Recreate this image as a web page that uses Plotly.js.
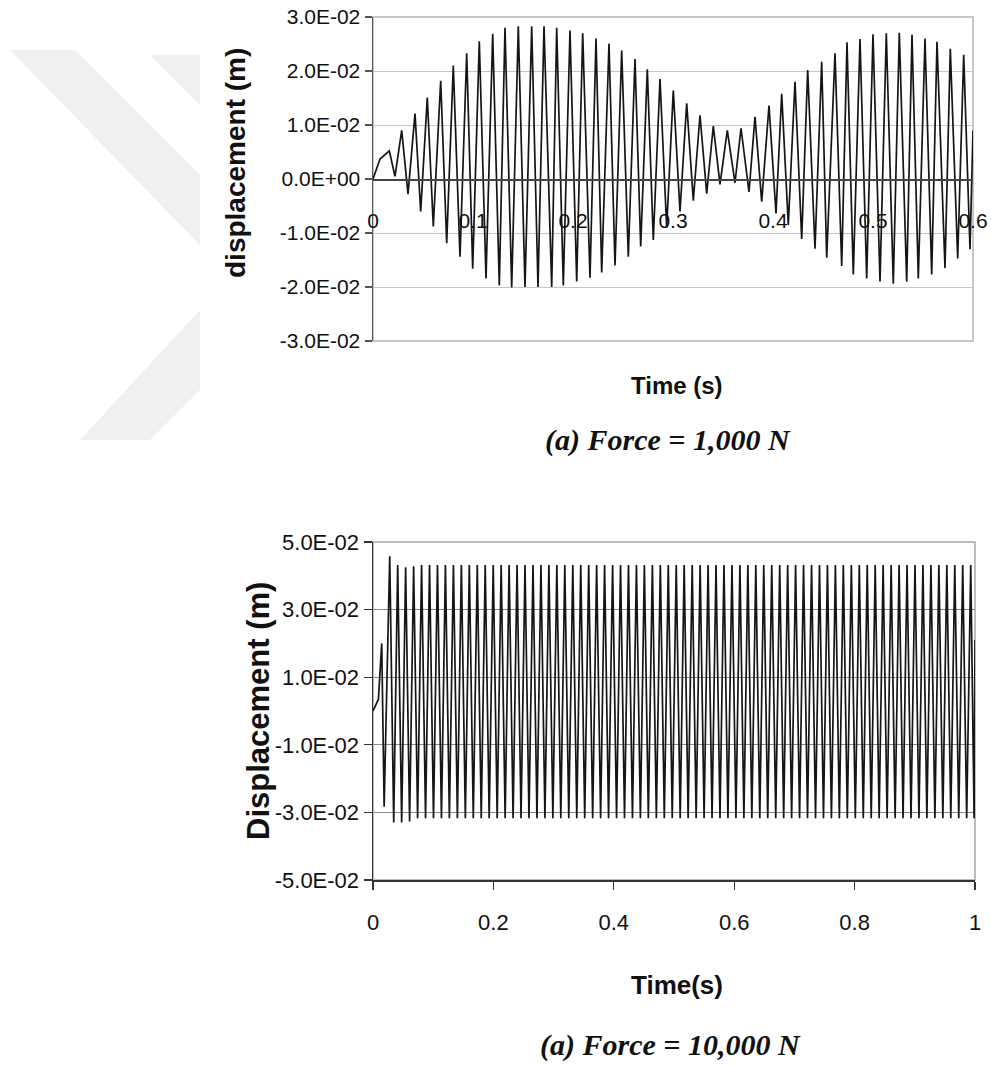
<!DOCTYPE html>
<html>
<head>
<meta charset="utf-8">
<script src="https://cdn.plot.ly/plotly-3.0.1.min.js"></script>
<style>html,body{margin:0;padding:0;background:#fff;}#chart{width:991px;height:1066px;}</style>
</head>
<body>
<div id="chart"></div>
<script>
// ---------- DATA (values in units of 1E-02 m) ----------
// (a) Force = 1,000 N
const topStartTime = [0, 0.007];
const topStartDisp = [0, 0.37];
const topPeakTime = [0.0163,0.0287,0.0420,0.0543,0.0677,0.0803,0.0937,0.1063,0.1197,0.1320,
  0.1453,0.1587,0.1710,0.1837,0.1970,0.2097,0.2230,0.2360,0.2487,0.2620,
  0.2743,0.2870,0.3003,0.3137,0.3270,0.3403,0.3543,0.3680,0.3820,0.3960,
  0.4087,0.4220,0.4347,0.4487,0.4620,0.4740,0.4870,0.5000,0.5133,0.5263,
  0.5390,0.5520,0.5640,0.5773,0.5907];
const topPeakDisp = [0.52,0.90,1.21,1.51,1.82,2.10,2.33,2.55,2.69,2.80,
  2.83,2.83,2.83,2.80,2.75,2.70,2.60,2.51,2.38,2.22,
  2.03,1.85,1.64,1.40,1.18,0.98,0.90,0.94,1.15,1.36,
  1.58,1.80,2.02,2.17,2.33,2.53,2.59,2.68,2.70,2.71,
  2.67,2.60,2.54,2.41,2.30];
const topTroughTime = [0.0220,0.0350,0.0477,0.0603,0.0737,0.0870,0.0997,0.1130,0.1263,0.1387,
  0.1520,0.1650,0.1787,0.1903,0.2037,0.2170,0.2287,0.2420,0.2553,0.2677,
  0.2803,0.2937,0.3070,0.3203,0.3337,0.3470,0.3620,0.3760,0.3887,0.4030,
  0.4153,0.4287,0.4420,0.4537,0.4687,0.4803,0.4937,0.5070,0.5203,0.5337,
  0.5453,0.5587,0.5720,0.5847,0.5970];
const topTroughDisp = [0.05,-0.28,-0.60,-0.88,-1.19,-1.44,-1.66,-1.84,-1.97,-2.01,
  -2.00,-2.00,-2.00,-1.97,-1.90,-1.83,-1.73,-1.60,-1.44,-1.25,
  -1.13,-0.90,-0.60,-0.40,-0.27,-0.10,-0.07,-0.24,-0.42,-0.64,
  -0.85,-1.11,-1.29,-1.46,-1.61,-1.77,-1.84,-1.90,-1.94,-1.90,
  -1.84,-1.77,-1.65,-1.47,-1.30];
const topEndTime = [0.6];
const topEndDisp = [0.90];

// (a) Force = 10,000 N
const botStartTime = [0, 0.009, 0.0145, 0.0185];
const botStartDisp = [0, 0.35, 2.00, -2.83];
const botPeakTime = [0.0278,0.0410,0.0542,0.0675,0.0807,0.0939,0.1071,0.1203,0.1336,0.1468,
  0.1600,0.1732,0.1864,0.1997,0.2129,0.2261,0.2393,0.2525,0.2658,0.2790,
  0.2922,0.3054,0.3186,0.3319,0.3451,0.3583,0.3715,0.3847,0.3980,0.4112,
  0.4244,0.4376,0.4508,0.4641,0.4773,0.4905,0.5037,0.5169,0.5302,0.5434,
  0.5566,0.5698,0.5830,0.5963,0.6095,0.6227,0.6359,0.6491,0.6624,0.6756,
  0.6888,0.7020,0.7152,0.7285,0.7417,0.7549,0.7681,0.7813,0.7946,0.8078,
  0.8210,0.8342,0.8474,0.8607,0.8739,0.8871,0.9003,0.9135,0.9268,0.9400,
  0.9532,0.9664,0.9796,0.9929];
const botPeakDisp = [4.58,4.32,4.25,4.28,4.32,4.32,4.32,4.32,4.32,4.32,
  4.32,4.32,4.32,4.32,4.32,4.32,4.32,4.32,4.32,4.32,
  4.32,4.32,4.32,4.32,4.32,4.32,4.32,4.32,4.32,4.32,
  4.32,4.32,4.32,4.32,4.32,4.32,4.32,4.32,4.32,4.32,
  4.32,4.32,4.32,4.32,4.32,4.32,4.32,4.32,4.32,4.32,
  4.32,4.32,4.32,4.32,4.32,4.32,4.32,4.32,4.32,4.32,
  4.32,4.32,4.32,4.32,4.32,4.32,4.32,4.32,4.32,4.32,
  4.32,4.32,4.32,4.32];
const botTroughTime = [0.0344,0.0476,0.0608,0.0741,0.0873,0.1005,0.1137,0.1269,0.1402,0.1534,
  0.1666,0.1798,0.1930,0.2063,0.2195,0.2327,0.2459,0.2591,0.2724,0.2856,
  0.2988,0.3120,0.3252,0.3385,0.3517,0.3649,0.3781,0.3913,0.4046,0.4178,
  0.4310,0.4442,0.4574,0.4707,0.4839,0.4971,0.5103,0.5235,0.5368,0.5500,
  0.5632,0.5764,0.5896,0.6029,0.6161,0.6293,0.6425,0.6557,0.6690,0.6822,
  0.6954,0.7086,0.7218,0.7351,0.7483,0.7615,0.7747,0.7879,0.8012,0.8144,
  0.8276,0.8408,0.8540,0.8673,0.8805,0.8937,0.9069,0.9201,0.9334,0.9466,
  0.9598,0.9730,0.9862,0.9985];
const botTroughDisp = [-3.30,-3.30,-3.27,-3.17,-3.17,-3.17,-3.17,-3.17,-3.17,-3.17,
  -3.17,-3.17,-3.17,-3.17,-3.17,-3.17,-3.17,-3.17,-3.17,-3.17,
  -3.17,-3.17,-3.17,-3.17,-3.17,-3.17,-3.17,-3.17,-3.17,-3.17,
  -3.17,-3.17,-3.17,-3.17,-3.17,-3.17,-3.17,-3.17,-3.17,-3.17,
  -3.17,-3.17,-3.17,-3.17,-3.17,-3.17,-3.17,-3.17,-3.17,-3.17,
  -3.17,-3.17,-3.17,-3.17,-3.17,-3.17,-3.17,-3.17,-3.17,-3.17,
  -3.17,-3.17,-3.17,-3.17,-3.17,-3.17,-3.17,-3.17,-3.17,-3.17,
  -3.17,-3.17,-3.17,-3.17];
const botEndTime = [1.0];
const botEndDisp = [2.10];

// tick labels
const topYTickVals = [0.03,0.02,0.01,0,-0.01,-0.02,-0.03];
const topYTickText = ['3.0E-02','2.0E-02','1.0E-02','0.0E+00','-1.0E-02','-2.0E-02','-3.0E-02'];
const topXTickVals = [0,0.1,0.2,0.3,0.4,0.5,0.6];
const topXTickText = ['0','0.1','0.2','0.3','0.4','0.5','0.6'];
const botYTickVals = [0.05,0.03,0.01,-0.01,-0.03,-0.05];
const botYTickText = ['5.0E-02','3.0E-02','1.0E-02','-1.0E-02','-3.0E-02','-5.0E-02'];
const botXTickVals = [0,0.2,0.4,0.6,0.8,1];
const botXTickText = ['0','0.2','0.4','0.6','0.8','1'];

// ---------- build series (merge extremes in time order) ----------
function merge(groups){
  const pts = [];
  groups.forEach(([t,v]) => t.forEach((x,i) => pts.push([x, v[i]/100])));
  pts.sort((a,b) => a[0]-b[0]);
  return {x: pts.map(p=>p[0]), y: pts.map(p=>p[1])};
}
const topSeries = merge([[topStartTime,topStartDisp],[topPeakTime,topPeakDisp],[topTroughTime,topTroughDisp],[topEndTime,topEndDisp]]);
const botSeries = merge([[botStartTime,botStartDisp],[botPeakTime,botPeakDisp],[botTroughTime,botTroughDisp],[botEndTime,botEndDisp]]);

// ---------- layout helpers (pixel -> paper) ----------
const W = 991, H = 1066;
const px = X => X / W;
const py = Y => 1 - Y / H;

const sans = 'Liberation Sans, Arial, sans-serif';
const serif = 'Liberation Serif, Times New Roman, serif';

const traces = [
  {x: topSeries.x, y: topSeries.y, xaxis:'x', yaxis:'y', type:'scatter', mode:'lines',
   line:{color:'#151515', width:1.7}, hoverinfo:'skip', showlegend:false},
  {x: botSeries.x, y: botSeries.y, xaxis:'x2', yaxis:'y2', type:'scatter', mode:'lines',
   line:{color:'#151515', width:1.7}, hoverinfo:'skip', showlegend:false}
];

function wm(points){
  return 'M ' + points.map(p => px(p[0]).toFixed(4) + ',' + py(p[1]).toFixed(4)).join(' L ') + ' Z';
}

const layout = {
  width: W, height: H,
  margin: {l:0, r:0, t:0, b:0},
  paper_bgcolor: '#ffffff', plot_bgcolor: 'rgba(0,0,0,0)',
  showlegend: false,
  font: {family: sans, color: '#111'},
  xaxis: {
    domain: [px(373), px(973)], range: [0, 0.6], anchor: 'free', position: py(179),
    showline: true, linecolor: '#444', linewidth: 1.5, showgrid: false, zeroline: false,
    tickmode: 'array', tickvals: topXTickVals, ticktext: topXTickText, ticks: '',
    ticklabelstandoff: 22, tickfont: {size: 21, family: sans, color: '#111'}, fixedrange: true
  },
  yaxis: {
    domain: [py(341), py(17)], range: [-0.03, 0.03], anchor: 'x',
    showline: true, linecolor: '#555', linewidth: 1.5, showgrid: true, gridcolor: '#c6c6c6', gridwidth: 1,
    zeroline: false, tickmode: 'array', tickvals: topYTickVals, ticktext: topYTickText,
    ticks: 'outside', ticklen: 7, tickcolor: '#555', tickwidth: 1.2,
    tickfont: {size: 21, family: sans, color: '#111'}, fixedrange: true
  },
  xaxis2: {
    domain: [px(373), px(975)], range: [0, 1], anchor: 'y2',
    showline: true, linecolor: '#333', linewidth: 1.5, showgrid: false, zeroline: false,
    tickmode: 'array', tickvals: botXTickVals, ticktext: botXTickText,
    ticks: 'outside', ticklen: 8, tickcolor: '#333', tickwidth: 1.2,
    ticklabelstandoff: 14, tickfont: {size: 22, family: sans, color: '#111'}, fixedrange: true
  },
  yaxis2: {
    domain: [py(880), py(542)], range: [-0.05, 0.05], anchor: 'x2',
    showline: true, linecolor: '#333', linewidth: 1.5, showgrid: true, gridcolor: '#8a8a8a', gridwidth: 1,
    zeroline: false, tickmode: 'array', tickvals: botYTickVals, ticktext: botYTickText,
    ticks: 'outside', ticklen: 8, tickcolor: '#333', tickwidth: 1.2,
    tickfont: {size: 22, family: sans, color: '#111'}, fixedrange: true
  },
  shapes: [
    {type:'path', xref:'paper', yref:'paper', layer:'below', line:{width:0}, fillcolor:'#f0f0f0',
     path: wm([[10,50],[75,50],[200,175],[200,245]])},
    {type:'path', xref:'paper', yref:'paper', layer:'below', line:{width:0}, fillcolor:'#f0f0f0',
     path: wm([[150,55],[200,55],[200,105]])},
    {type:'path', xref:'paper', yref:'paper', layer:'below', line:{width:0}, fillcolor:'#f0f0f0',
     path: wm([[200,310],[200,390],[150,440],[80,440]])},
    {type:'rect', xref:'x domain', yref:'y domain', x0:0, x1:1, y0:0, y1:1, layer:'below',
     line:{color:'#b5b5b5', width:1.5}, fillcolor:'rgba(0,0,0,0)'},
    {type:'rect', xref:'x2 domain', yref:'y2 domain', x0:0, x1:1, y0:0, y1:1, layer:'below',
     line:{color:'#a8a8a8', width:1.5}, fillcolor:'rgba(0,0,0,0)'}
  ],
  annotations: [
    {text:'<b>displacement (m)</b>', x:px(236), y:py(163), xref:'paper', yref:'paper', textangle:-90,
     showarrow:false, xanchor:'center', yanchor:'middle', font:{size:28, family:sans, color:'#111'}},
    {text:'<b>Time (s)</b>', x:px(677), y:py(385), xref:'paper', yref:'paper',
     showarrow:false, xanchor:'center', yanchor:'middle', font:{size:24, family:sans, color:'#111'}},
    {text:'<b><i>(a) Force = 1,000 N</i></b>', x:px(668), y:py(440), xref:'paper', yref:'paper',
     showarrow:false, xanchor:'center', yanchor:'middle', font:{size:30, family:serif, color:'#111'}},
    {text:'<b>Displacement (m)</b>', x:px(258), y:py(711), xref:'paper', yref:'paper', textangle:-90,
     showarrow:false, xanchor:'center', yanchor:'middle', font:{size:31, family:sans, color:'#111'}},
    {text:'<b>Time(s)</b>', x:px(677), y:py(985), xref:'paper', yref:'paper',
     showarrow:false, xanchor:'center', yanchor:'middle', font:{size:26, family:sans, color:'#111'}},
    {text:'<b><i>(a) Force = 10,000 N</i></b>', x:px(670), y:py(1045), xref:'paper', yref:'paper',
     showarrow:false, xanchor:'center', yanchor:'middle', font:{size:30, family:serif, color:'#111'}}
  ]
};

Plotly.newPlot('chart', traces, layout, {displayModeBar: false, staticPlot: true});
</script>
</body>
</html>
